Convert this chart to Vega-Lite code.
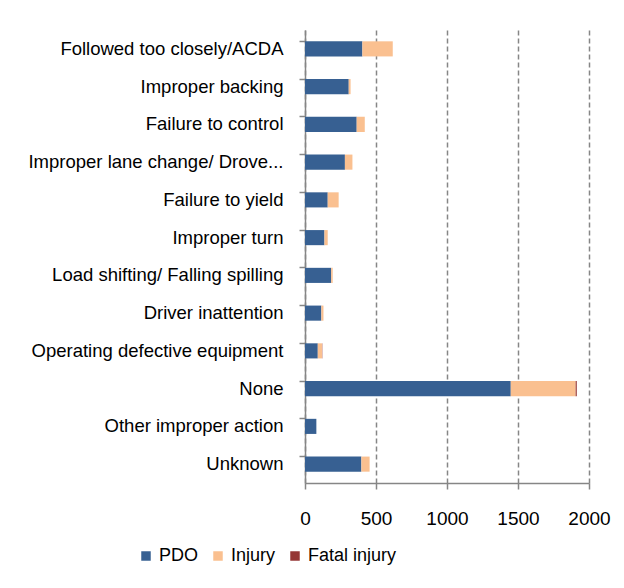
{
  "$schema": "https://vega.github.io/schema/vega-lite/v6.json",
  "autosize": "none",
  "width": 284,
  "height": 453,
  "padding": {"left": 305, "top": 30, "right": 35, "bottom": 105},
  "background": "white",
  "data": {
    "values": [
      {"cause": "Followed too closely/ACDA", "type": "PDO", "k": 1, "count": 404},
      {"cause": "Followed too closely/ACDA", "type": "Injury", "k": 2, "count": 214},
      {"cause": "Improper backing", "type": "PDO", "k": 1, "count": 308},
      {"cause": "Improper backing", "type": "Injury", "k": 2, "count": 13},
      {"cause": "Failure to control", "type": "PDO", "k": 1, "count": 364},
      {"cause": "Failure to control", "type": "Injury", "k": 2, "count": 57},
      {"cause": "Improper lane change/ Drove...", "type": "PDO", "k": 1, "count": 281},
      {"cause": "Improper lane change/ Drove...", "type": "Injury", "k": 2, "count": 53},
      {"cause": "Failure to yield", "type": "PDO", "k": 1, "count": 160},
      {"cause": "Failure to yield", "type": "Injury", "k": 2, "count": 77},
      {"cause": "Improper turn", "type": "PDO", "k": 1, "count": 137},
      {"cause": "Improper turn", "type": "Injury", "k": 2, "count": 23},
      {"cause": "Load shifting/ Falling spilling", "type": "PDO", "k": 1, "count": 184},
      {"cause": "Load shifting/ Falling spilling", "type": "Injury", "k": 2, "count": 11},
      {"cause": "Driver inattention", "type": "PDO", "k": 1, "count": 115},
      {"cause": "Driver inattention", "type": "Injury", "k": 2, "count": 15},
      {"cause": "Operating defective equipment", "type": "PDO", "k": 1, "count": 90},
      {"cause": "Operating defective equipment", "type": "Injury", "k": 2, "count": 30},
      {"cause": "Operating defective equipment", "type": "Fatal injury", "k": 3, "count": 2},
      {"cause": "None", "type": "PDO", "k": 1, "count": 1449},
      {"cause": "None", "type": "Injury", "k": 2, "count": 457},
      {"cause": "None", "type": "Fatal injury", "k": 3, "count": 8},
      {"cause": "Other improper action", "type": "PDO", "k": 1, "count": 80},
      {"cause": "Unknown", "type": "PDO", "k": 1, "count": 397},
      {"cause": "Unknown", "type": "Injury", "k": 2, "count": 58}
    ]
  },
  "mark": {"type": "bar"},
  "encoding": {
    "y": {
      "field": "cause",
      "type": "nominal",
      "sort": null,
      "scale": {"paddingInner": 0.6, "paddingOuter": 0.3},
      "axis": {
        "title": null,
        "labelFont": "Liberation Sans",
        "labelFontSize": 18.5,
        "labelColor": "#000000",
        "labelLimit": 320,
        "labelPadding": 16,
        "bandPosition": 0,
        "tickSize": 6,
        "tickColor": "#868686",
        "tickWidth": 1.5,
        "domainColor": "#868686",
        "domainWidth": 1.5,
        "grid": false
      }
    },
    "x": {
      "field": "count",
      "type": "quantitative",
      "stack": "zero",
      "scale": {"domain": [0, 2000], "nice": false},
      "axis": {
        "title": null,
        "values": [0, 500, 1000, 1500, 2000],
        "format": "d",
        "labelFont": "Liberation Sans",
        "labelFontSize": 19,
        "labelColor": "#000000",
        "labelPadding": 20,
        "tickSize": 6,
        "tickColor": "#868686",
        "tickWidth": 1.5,
        "domainColor": "#868686",
        "domainWidth": 1.5,
        "grid": true,
        "gridColor": "#868686",
        "gridDash": [5, 3],
        "gridWidth": 1.5,
        "labelFlush": false
      }
    },
    "color": {
      "field": "type",
      "type": "nominal",
      "sort": ["PDO", "Injury", "Fatal injury"],
      "scale": {"domain": ["PDO", "Injury", "Fatal injury"], "range": ["#376092", "#FAC090", "#953735"]},
      "legend": {
        "title": null,
        "orient": "none",
        "direction": "horizontal",
        "legendX": -168,
        "legendY": 517,
        "symbolType": "square",
        "symbolSize": 90,
        "symbolStrokeWidth": 0,
        "labelFont": "Liberation Sans",
        "labelFontSize": 18,
        "labelColor": "#000000",
        "labelOffset": 4,
        "columnPadding": 10
      }
    },
    "order": {"field": "k", "type": "quantitative"}
  },
  "config": {"view": {"stroke": null}}
}
